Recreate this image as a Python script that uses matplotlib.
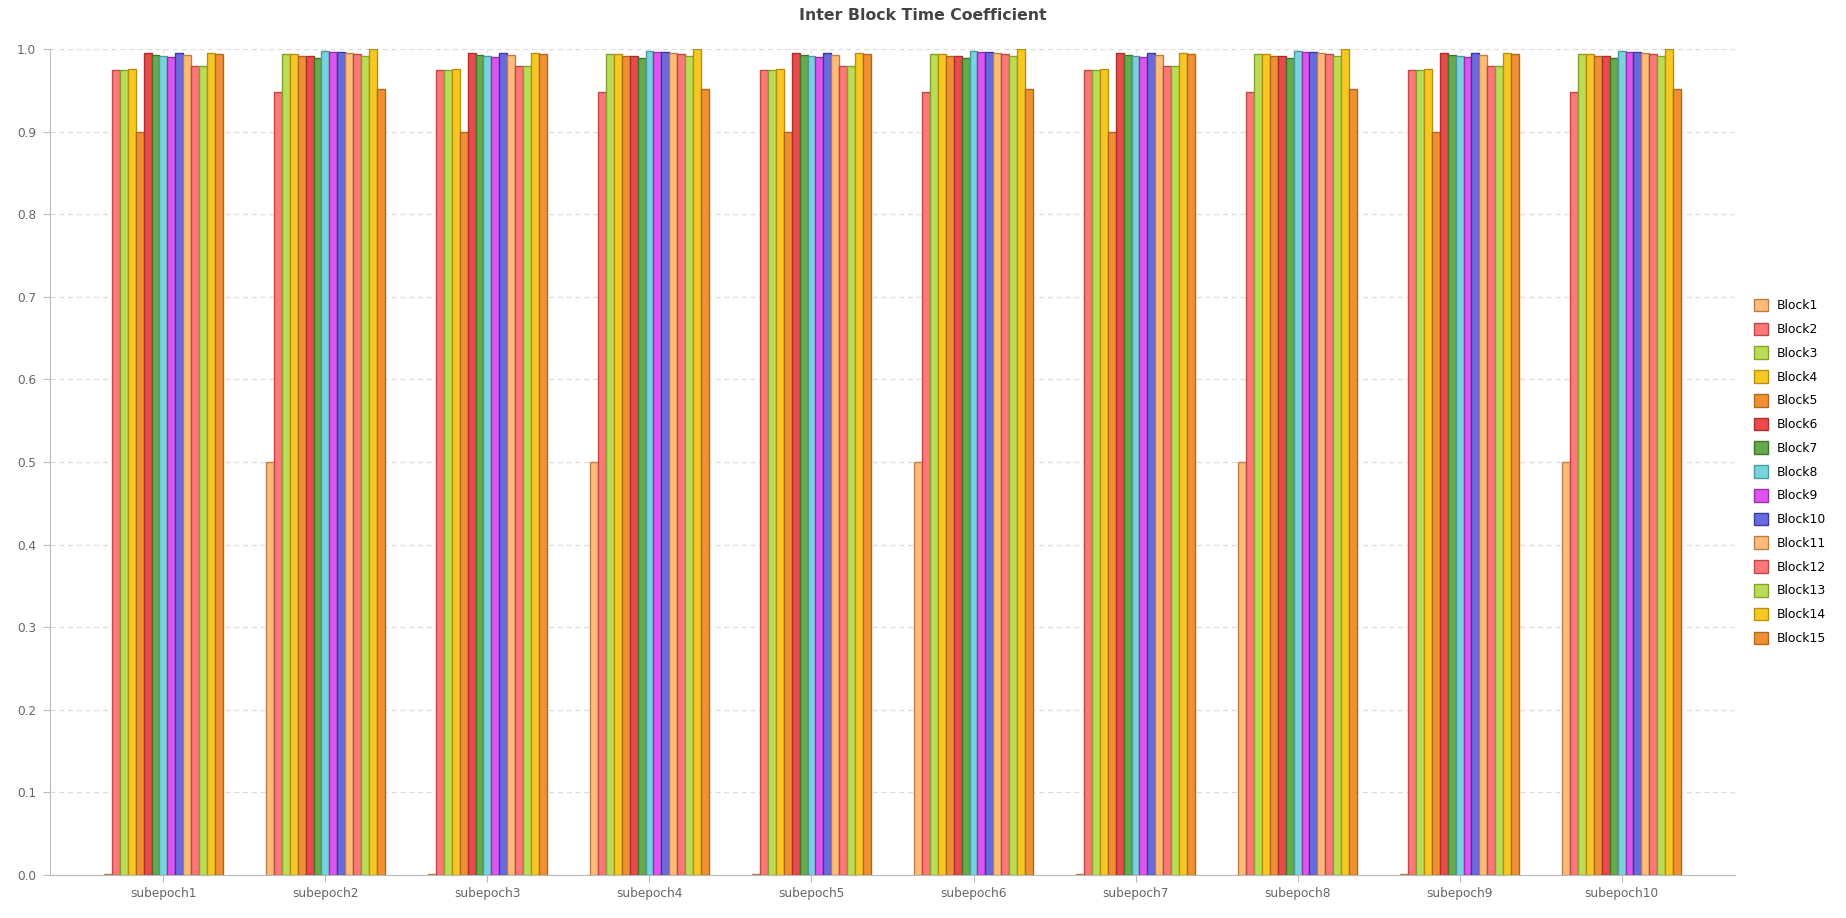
import numpy as np
import matplotlib
matplotlib.use("Agg")
from matplotlib import pyplot as plt

plt.rcParams['font.family'] = ['DejaVu Sans']

subepochs = ["subepoch%d" % i for i in range(1, 11)]
blocks = ["Block%d" % i for i in range(1, 16)]

# values read per block, odd subepochs / even subepochs
odd_vals = [0.001, 0.975, 0.975, 0.976, 0.900, 0.995, 0.993, 0.992, 0.990, 0.995,
            0.993, 0.980, 0.980, 0.995, 0.994]
even_vals = [0.500, 0.948, 0.994, 0.994, 0.992, 0.991, 0.989, 0.997, 0.996, 0.996,
             0.995, 0.994, 0.992, 1.000, 0.952]

# one row per block, one column per subepoch
values = np.array([[odd_vals[b] if s % 2 == 0 else even_vals[b]
                    for s in range(len(subepochs))] for b in range(len(blocks))])

fills = ["#ffbb77", "#ff7777", "#bbdd55", "#f8c822", "#f09030",
         "#ec4a4a", "#66aa4c", "#77d4dc", "#dd55f0", "#6a6ae0"]
edges = ["#b88048", "#b84a4a", "#88a030", "#b89010", "#b06820",
         "#a83030", "#40762c", "#4a9aa2", "#9a30a8", "#3a3aa0"]

fig = plt.figure(figsize=(18.46, 9.18), dpi=100)
ax = fig.add_axes([50/1846, 1 - 875/918, (1735-50)/1846, (875-49)/918])

x = np.arange(len(subepochs))
w = 0.049
n = len(blocks)
for b in range(n):
    off = (b - (n - 1) / 2) * w
    ax.bar(x + off, values[b], w, color=fills[b % 10], edgecolor=edges[b % 10],
           linewidth=1.0, label=blocks[b], zorder=3)

ax.set_xlim(-0.7, 9.7)
ax.set_ylim(0, 1.0)
ax.set_yticks(np.arange(0, 1.01, 0.1))
ax.set_yticklabels(["%.1f" % v for v in np.arange(0, 1.01, 0.1)])
ax.set_xticks(x)
ax.set_xticklabels(subepochs)
ax.grid(True, linestyle=(0, (4, 3)), color="#dddddd", linewidth=0.9, zorder=0)
ax.set_axisbelow(True)
for s in ["top", "right"]:
    ax.spines[s].set_visible(False)
for s in ["left", "bottom"]:
    ax.spines[s].set_color("#bbbbbb")
ax.tick_params(colors="#bbbbbb", labelcolor="#666666", labelsize=8.7, length=5)
ax.tick_params(axis="y", pad=5)

fig.text(0.5, 1 - 16/918, "Inter Block Time Coefficient", fontsize=11.3,
         fontweight="bold", color="#444444", ha="center", va="center")

ax.legend(loc="center left", bbox_to_anchor=(1.0, 0.488), frameon=False,
          fontsize=8.9, handlelength=1.2, handleheight=1.2,
          labelspacing=0.83, handletextpad=0.65, borderaxespad=1.1)

fig.savefig("out.png", dpi=100)
